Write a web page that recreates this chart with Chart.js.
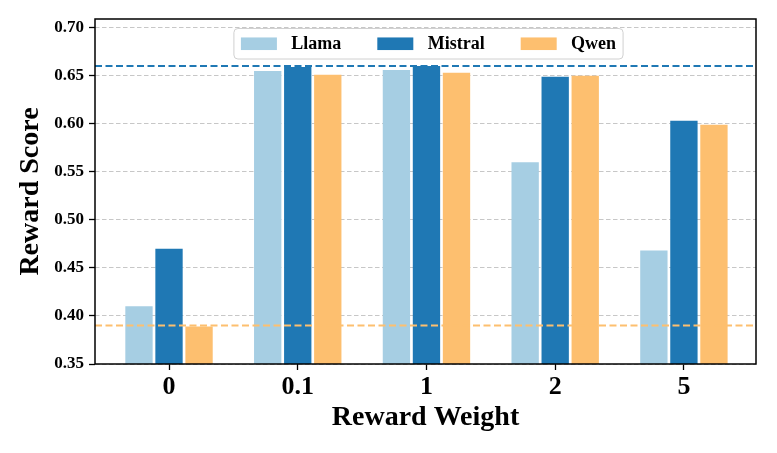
<!DOCTYPE html>
<html>
<head>
<meta charset="utf-8">
<script src="https://cdn.jsdelivr.net/npm/chart.js@4.4.1/dist/chart.umd.min.js"></script>
<style>
  html, body { margin: 0; padding: 0; background: #fff; }
  #wrap { width: 777px; height: 453px; position: relative; }
</style>
</head>
<body>
<div id="wrap"><canvas id="rewardChart"></canvas></div>
<script>
// ==========================================
// 1. 資料 (Data)
// ==========================================
const categories = ['0', '0.1', '1', '2', '5'];
const llamaScores = [0.41, 0.655, 0.656, 0.56, 0.468];
const mistralScores = [0.47, 0.659, 0.66, 0.649, 0.603];
const qwenScores = [0.389, 0.651, 0.653, 0.65, 0.599];
const yTicks = [0.35, 0.40, 0.45, 0.50, 0.55, 0.60, 0.65, 0.70];
const mistralBaseline = 0.66;
const qwenBaseline = 0.39;

const xMin = -0.575, xMax = 4.56;
const yMin = 0.35, yMax = 0.709;

const serif = '"Liberation Serif", "Times New Roman", serif';
const colors = { llama: '#a6cee3', mistral: '#1f78b4', qwen: '#fdbf6f' };

const toPoints = arr => arr.map((v, i) => ({ x: i, y: v }));

// ==========================================
// 2. 外框與圖例 (Frame + Legend plugin)
// ==========================================
const framePlugin = {
    id: 'frame',
    afterDraw(chart) {
        const { ctx, chartArea: a } = chart;
        ctx.save();
        ctx.strokeStyle = '#000';
        ctx.lineWidth = 1.5;
        ctx.strokeRect(a.left, a.top, a.right - a.left, a.bottom - a.top);

        // legend, matplotlib style (upper center, inside the axes)
        const items = chart.data.datasets.filter(d => d.type !== 'line');
        const fs = 18;
        ctx.font = 'bold ' + fs + 'px ' + serif;
        const handleW = 2 * fs, handleH = 0.7 * fs, textPad = 0.8 * fs, colGap = 2 * fs, pad = 7;
        let total = pad * 2;
        items.forEach((d, i) => {
            total += handleW + textPad + ctx.measureText(d.label).width;
            if (i < items.length - 1) total += colGap;
        });
        const boxX = (a.left + a.right) / 2 - total / 2 + 3;
        const boxY = a.top + 9.5, boxH = 30.5;
        ctx.beginPath();
        ctx.roundRect(boxX, boxY, total, boxH, 4);
        ctx.fillStyle = 'rgba(255,255,255,0.85)';
        ctx.fill();
        ctx.strokeStyle = '#d0d0d0';
        ctx.lineWidth = 1;
        ctx.stroke();

        let x = boxX + pad;
        const cy = boxY + boxH / 2;
        ctx.textBaseline = 'middle';
        ctx.textAlign = 'left';
        items.forEach(d => {
            ctx.fillStyle = d.backgroundColor;
            ctx.fillRect(x, cy - handleH / 2, handleW, handleH);
            x += handleW + textPad;
            ctx.fillStyle = '#000';
            ctx.fillText(d.label, x, cy + 1);
            x += ctx.measureText(d.label).width + colGap;
        });
        ctx.restore();
    }
};

// ==========================================
// 3. 圖表 (Chart)
// ==========================================
const barOpts = { categoryPercentage: 0.70, barPercentage: 0.91, order: 2 };
const dashLine = (v, c) => ({
    type: 'line',
    data: [{ x: xMin, y: v }, { x: xMax, y: v }],
    borderColor: c,
    borderWidth: 2,
    borderDash: [7, 3.5],
    pointRadius: 0,
    order: 0
});

new Chart(document.getElementById('rewardChart'), {
    type: 'bar',
    data: {
        datasets: [
            { label: 'Llama', data: toPoints(llamaScores), backgroundColor: colors.llama, ...barOpts },
            { label: 'Mistral', data: toPoints(mistralScores), backgroundColor: colors.mistral, ...barOpts },
            { label: 'Qwen', data: toPoints(qwenScores), backgroundColor: colors.qwen, ...barOpts },
            dashLine(mistralBaseline, colors.mistral),
            dashLine(qwenBaseline, colors.qwen)
        ]
    },
    options: {
        responsive: true,
        maintainAspectRatio: false,
        animation: false,
        layout: { padding: { left: 0, right: 21, top: 19, bottom: 0 } },
        scales: {
            x: {
                type: 'linear',
                offset: false,
                min: xMin,
                max: xMax,
                afterBuildTicks: s => { s.ticks = categories.map((_, i) => ({ value: i })); },
                afterFit: s => { s.height = 89; },
                grid: { offset: false, drawOnChartArea: false, drawTicks: true, tickLength: 6, tickColor: '#000', tickWidth: 1.3, tickBorderDash: [] },
                border: { display: false },
                ticks: {
                    padding: 2,
                    color: '#000',
                    font: { family: serif, size: 26, weight: 'bold' },
                    callback: v => categories[v]
                },
                title: {
                    display: true,
                    text: 'Reward Weight',
                    color: '#000',
                    font: { family: serif, size: 28, weight: 'bold' },
                    padding: { top: 0, bottom: 18 }
                }
            },
            y: {
                min: yMin,
                max: yMax,
                afterBuildTicks: s => { s.ticks = yTicks.map(v => ({ value: v })); },
                afterFit: s => { s.width = 95; },
                grid: { color: 'rgba(180,180,180,0.75)', lineWidth: 1, tickLength: 6, tickColor: '#000', tickWidth: 1.3, tickBorderDash: [] },
                border: { display: false, dash: [4.5, 2.5] },
                ticks: {
                    padding: 5,
                    color: '#000',
                    font: { family: serif, size: 17, weight: 'bold' },
                    callback: v => v.toFixed(2)
                },
                title: {
                    display: true,
                    text: 'Reward Score',
                    color: '#000',
                    font: { family: serif, size: 28, weight: 'bold' },
                    padding: { top: 14, bottom: 0 }
                }
            }
        },
        plugins: {
            legend: { display: false },
            tooltip: { enabled: false }
        }
    },
    plugins: [framePlugin]
});
</script>
</body>
</html>
